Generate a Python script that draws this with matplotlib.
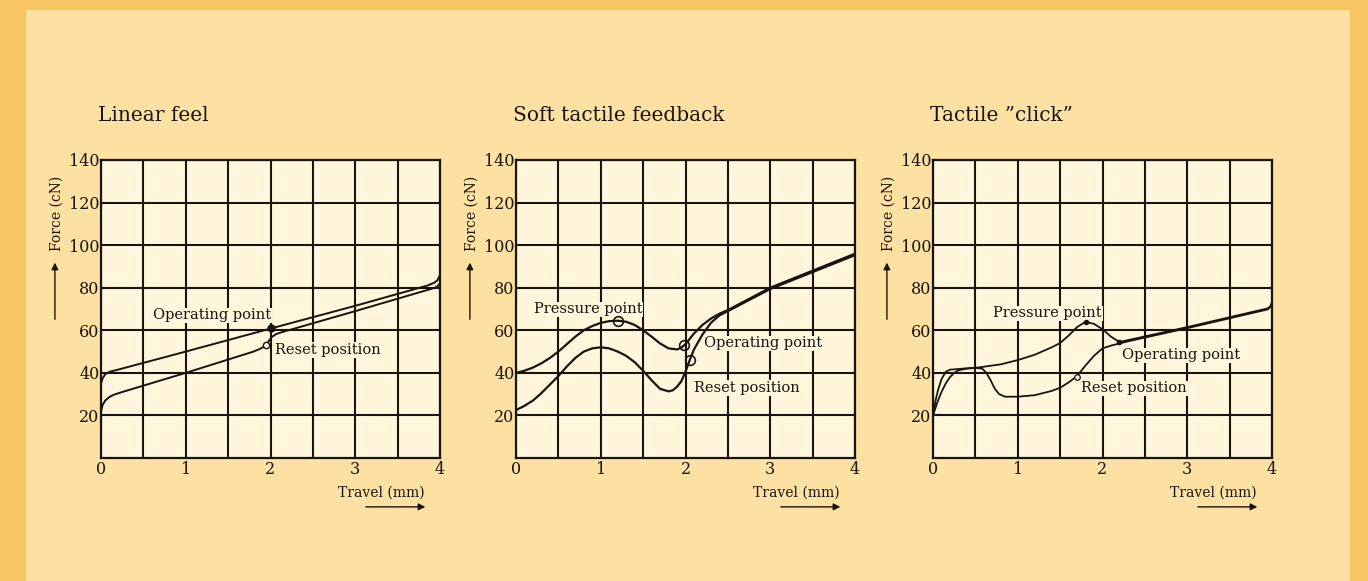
import matplotlib
matplotlib.use("Agg")
import matplotlib.pyplot as plt
from matplotlib.patches import Rectangle

plt.rcParams['font.family'] = ['DejaVu Serif']

# ---------------- data ----------------
titles = ["Linear feel", "Soft tactile feedback", "Tactile \u201dclick\u201d"]
x_ticks = [0, 1, 2, 3, 4]
y_ticks = [20, 40, 60, 80, 100, 120, 140]

# Linear feel
lin_press_x = [0, 0.02, 0.05, 0.1, 0.2, 1.0, 2.0, 3.0, 3.85, 3.93, 3.97, 4.0]
lin_press_y = [35, 37.5, 39.3, 40.5, 41.5, 50, 60.8, 71.5, 81, 82.3, 83.5, 86]
lin_rel_x = [0, 0.02, 0.05, 0.1, 0.15, 0.25, 1.0, 1.8, 1.87, 1.92, 1.95, 1.98,
             2.02, 2.07, 2.15, 3.0, 3.9, 3.96, 4.0]
lin_rel_y = [22, 25, 27, 28.7, 29.7, 31, 40, 50, 51.2, 52.2, 53, 55,
             57, 58.3, 59.3, 69, 79.5, 80.3, 82]
lin_operating = (2.0, 61)
lin_reset = (1.95, 53)

# Soft tactile feedback
soft_press_x = [0, 0.1, 0.2, 0.3, 0.4, 0.5, 0.6, 0.7, 0.8, 0.9, 1.0, 1.1, 1.2, 1.3,
                1.4, 1.5, 1.6, 1.7, 1.8, 1.9, 1.95, 2.0, 2.05, 2.1, 2.2, 2.3, 2.4,
                2.5, 3.0, 4.0]
soft_press_y = [40, 41, 42.5, 44.5, 47, 50, 53.5, 57, 60, 62, 63.5, 64.3, 64.5, 64,
                62.5, 60, 57, 53.8, 51.5, 51, 51.8, 53.5, 56, 58.5, 62.5, 65.5, 67.8,
                69.5, 80, 96]
soft_rel_x = [0, 0.1, 0.2, 0.3, 0.4, 0.5, 0.6, 0.7, 0.8, 0.9, 1.0, 1.1, 1.2, 1.3,
              1.4, 1.5, 1.6, 1.7, 1.8, 1.85, 1.9, 1.95, 2.0, 2.05, 2.1, 2.2, 2.3,
              2.4, 2.5, 3.0, 4.0]
soft_rel_y = [22.5, 24.5, 27, 30.5, 34.5, 38.5, 43, 47, 50, 51.5, 52, 51.5, 50, 48,
              45, 41, 36.5, 32.5, 31.3, 31.8, 33.5, 36, 40.5, 46, 51, 58, 63.5,
              67.0, 69.0, 79.4, 95.3]
soft_pressure = (1.2, 64.5)
soft_operating = (1.98, 53)
soft_reset = (2.05, 46)

# Tactile "click"
click_press_x = [0, 0.03, 0.06, 0.1, 0.15, 0.2, 0.3, 0.55, 0.8, 1.0, 1.2, 1.4, 1.5,
                 1.6, 1.7, 1.8, 1.9, 2.0, 2.1, 2.2, 3.0, 3.95, 3.98, 4.0]
click_press_y = [20, 27, 32, 37, 40.5, 41.5, 41.8, 42.6, 44, 46, 48.5, 52, 54,
                 57.5, 61.5, 64, 63, 60.5, 57, 54.5, 61.5, 70.3, 71.3, 73]
click_rel_x = [0, 0.05, 0.1, 0.15, 0.2, 0.25, 0.3, 0.4, 0.5, 0.58, 0.63, 0.68, 0.73,
               0.78, 0.85, 1.0, 1.2, 1.4, 1.5, 1.6, 1.7, 1.8, 1.9, 2.0, 2.1, 2.2,
               2.3, 3.0, 3.95, 3.98, 4.0]
click_rel_y = [20, 26, 31, 35, 38, 40, 41.2, 42, 42.3, 42, 40, 36.5, 32.5,
               30, 28.8, 28.8, 29.5, 31.5, 33, 35.5, 38.5, 43.5, 48, 51.5, 52.8, 53.8,
               54.8, 61.0, 69.8, 70.8, 72.5]
click_pressure = (1.8, 64)
click_operating = (2.2, 54.5)
click_reset = (1.7, 38)

# ---------------- styling ----------------
OUTER = "#F8C563"
INNER = "#FDE1A2"
AXBG = "#FFF6DC"
INK = "#1a1410"

fig = plt.figure(figsize=(13.68, 5.81), dpi=100, facecolor=OUTER)
fig.patches.append(Rectangle((26 / 1368, 0), (1350 - 26) / 1368, 1 - 10 / 581,
                             transform=fig.transFigure, facecolor=INNER,
                             edgecolor="none", zorder=-10))

W, H = 1368, 581
ax_lefts = [101, 516, 933]
ax_w = 339
ax_top, ax_bot = 160, 458
axes = []
for lx in ax_lefts:
    ax = fig.add_axes([lx / W, (H - ax_bot) / H, ax_w / W, (ax_bot - ax_top) / H])
    axes.append(ax)

lab_box = dict(boxstyle="square,pad=0.05", facecolor=AXBG, edgecolor="none")


def setup(ax, title):
    ax.set_facecolor(AXBG)
    ax.set_xlim(0, 4)
    ax.set_ylim(0, 140)
    ax.set_xticks(x_ticks)
    ax.set_xticks([0.5, 1.5, 2.5, 3.5], minor=True)
    ax.set_yticks(y_ticks)
    ax.set_xticklabels([str(v) for v in x_ticks], fontsize=11.5, color=INK)
    ax.set_yticklabels([str(v) for v in y_ticks], fontsize=11.5, color=INK)
    ax.tick_params(axis="both", which="both", length=0, pad=1)
    ax.tick_params(axis="x", pad=2)
    ax.grid(True, which="both", color=INK, linewidth=1.5, zorder=1)
    ax.set_axisbelow(True)
    for s in ax.spines.values():
        s.set_linewidth(1.6)
        s.set_color(INK)
    ax.text(-0.01, 1.15, title, transform=ax.transAxes, fontsize=14.5,
            color=INK, ha="left", va="center")
    # y label with arrow
    ax.text(-0.13, 0.822, "Force (cN)", transform=ax.transAxes, rotation=90,
            fontsize=10, color=INK, ha="center", va="center")
    ax.annotate("", xy=(-0.136, 0.665), xytext=(-0.136, 0.456),
                xycoords=ax.transAxes, textcoords=ax.transAxes,
                arrowprops=dict(arrowstyle="-|>", color=INK, lw=1.0,
                                mutation_scale=10), annotation_clip=False)
    # x label with arrow
    ax.text(0.956, -0.117, "Travel (mm)", transform=ax.transAxes,
            fontsize=10, color=INK, ha="right", va="center")
    ax.annotate("", xy=(0.965, -0.164), xytext=(0.773, -0.164),
                xycoords=ax.transAxes, textcoords=ax.transAxes,
                arrowprops=dict(arrowstyle="-|>", color=INK, lw=1.0,
                                mutation_scale=10), annotation_clip=False)


for ax, t in zip(axes, titles):
    setup(ax, t)

# Panel 1
ax = axes[0]
ax.plot(lin_press_x, lin_press_y, color=INK, lw=1.4, zorder=3)
ax.plot(lin_rel_x, lin_rel_y, color=INK, lw=1.4, zorder=3)
ax.plot(*lin_operating, "o", ms=5, color=INK, zorder=4)
ax.plot(*lin_reset, "o", ms=4.5, mfc=AXBG, mec=INK, mew=1.0, zorder=4)
ax.text(0.61, 67, "Operating point", fontsize=10.5, color=INK, ha="left",
        va="center", bbox=lab_box, zorder=2)
ax.text(2.05, 50.8, "Reset position", fontsize=10.5, color=INK, ha="left",
        va="center", bbox=lab_box, zorder=2)

# Panel 2
ax = axes[1]
ax.plot(soft_press_x, soft_press_y, color=INK, lw=1.6, zorder=3)
ax.plot(soft_rel_x, soft_rel_y, color=INK, lw=1.6, zorder=3)
for p in (soft_pressure, soft_operating, soft_reset):
    ax.plot(*p, "o", ms=7, mfc="none", mec=INK, mew=1.2, zorder=4)
ax.text(0.21, 69.8, "Pressure point", fontsize=10.5, color=INK, ha="left",
        va="center", bbox=lab_box, zorder=2)
ax.text(2.22, 53.9, "Operating point", fontsize=10.5, color=INK, ha="left",
        va="center", bbox=lab_box, zorder=2)
ax.text(2.1, 32.8, "Reset position", fontsize=10.5, color=INK, ha="left",
        va="center", bbox=lab_box, zorder=2)

# Panel 3
ax = axes[2]
ax.plot(click_press_x, click_press_y, color=INK, lw=1.3, zorder=3)
ax.plot(click_rel_x, click_rel_y, color=INK, lw=1.3, zorder=3)
ax.plot(*click_pressure, "o", ms=3, color=INK, zorder=4)
ax.plot(*click_operating, "o", ms=3, color=INK, zorder=4)
ax.plot(*click_reset, "o", ms=4, mfc=AXBG, mec=INK, mew=0.9, zorder=4)
ax.text(0.71, 68, "Pressure point", fontsize=10.5, color=INK, ha="left",
        va="center", bbox=lab_box, zorder=2)
ax.text(2.23, 48.2, "Operating point", fontsize=10.5, color=INK, ha="left",
        va="center", bbox=lab_box, zorder=2)
ax.text(1.75, 32.7, "Reset position", fontsize=10.5, color=INK, ha="left",
        va="center", bbox=lab_box, zorder=2)

fig.savefig("out.png", dpi=100, facecolor=OUTER)
